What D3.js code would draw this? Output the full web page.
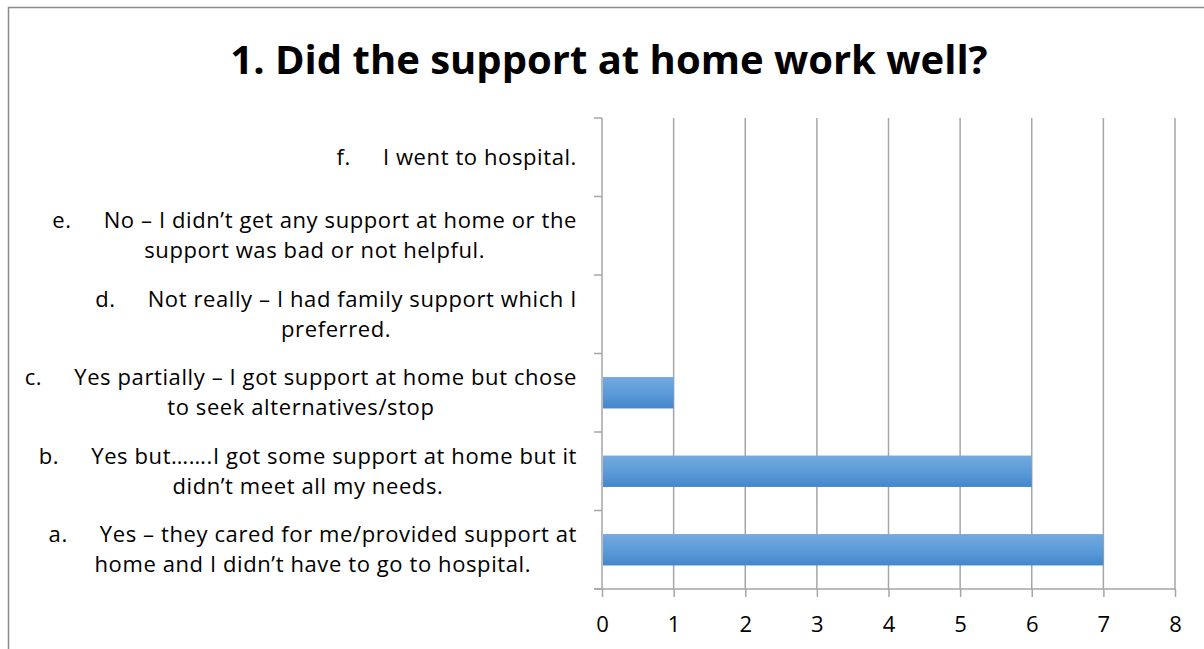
<!DOCTYPE html>
<html>
<head>
<meta charset="utf-8">
<script src="https://cdn.jsdelivr.net/npm/d3@7"></script>
<style>
  body { margin: 0; background: #fff; }
  svg { display: block; font-family: "Open Sans", Lato, sans-serif; }
</style>
</head>
<body>
<svg id="chart" width="1204" height="649"></svg>
<script>
// categories, top to bottom as drawn
const letters = ["f.", "e.", "d.", "c.", "b.", "a."];
const firstLines = [
  "I went to hospital.",
  "No – I didn’t get any support at home or the",
  "Not really – I had family support which I",
  "Yes partially – I got support at home but chose",
  "Yes but…….I got some support at home but it",
  "Yes – they cared for me/provided support at"
];
const secondLines = [
  "",
  "support was bad or not helpful.",
  "preferred.",
  "to seek alternatives/stop",
  "didn’t meet all my needs.",
  "home and I didn’t have to go to hospital."
];
const counts = [0, 0, 0, 1, 6, 7];
const xTicks = [0, 1, 2, 3, 4, 5, 6, 7, 8];

const svg = d3.select("#chart");
const W = 1204, H = 649;
const plotLeft = 602, plotRight = 1175, plotTop = 118, plotBottom = 589;

// frame (top and left edges visible)
svg.append("path")
  .attr("d", "M8.5," + H + "V7.5H" + W)
  .attr("fill", "none")
  .attr("stroke", "#8c8c8c")
  .attr("stroke-width", 1.5);

svg.append("text")
  .attr("x", 609).attr("y", 74)
  .attr("text-anchor", "middle")
  .style("font-size", "40px")
  .style("font-weight", "700")
  .style("fill", "#000")
  .text("1. Did the support at home work well?");

const x = d3.scaleLinear().domain([0, 8]).range([plotLeft, plotRight]);
const y = d3.scaleBand().domain(letters).range([plotTop, plotBottom])
  .paddingInner(0.6).paddingOuter(0.3);

// gradient for bars
const grad = svg.append("defs").append("linearGradient")
  .attr("id", "barGrad").attr("x1", 0).attr("y1", 0).attr("x2", 0).attr("y2", 1);
grad.append("stop").attr("offset", "0%").attr("stop-color", "#74a9df");
grad.append("stop").attr("offset", "50%").attr("stop-color", "#5c9cd9");
grad.append("stop").attr("offset", "100%").attr("stop-color", "#4386cb");

// vertical gridlines
svg.append("g").selectAll("line")
  .data(xTicks.slice(1))
  .join("line")
  .attr("x1", function (d) { return x(d); })
  .attr("x2", function (d) { return x(d); })
  .attr("y1", plotTop).attr("y2", plotBottom)
  .attr("stroke", "#a6a6a6")
  .attr("stroke-width", 1.5);

// bars
svg.append("g").selectAll("rect")
  .data(counts)
  .join("rect")
  .attr("x", x(0) + 1)
  .attr("y", function (d, i) { return y(letters[i]); })
  .attr("width", function (d) { return Math.max(0, x(d) - x(0) - 1); })
  .attr("height", y.bandwidth())
  .attr("fill", "url(#barGrad)");

// x axis
const xAxis = svg.append("g")
  .attr("transform", "translate(0," + plotBottom + ")")
  .call(d3.axisBottom(x).tickValues(xTicks).tickSize(8).tickPadding(19).tickFormat(d3.format("d")));
xAxis.select(".domain")
  .attr("d", "M" + (plotLeft - 8) + ",0H" + plotRight)
  .attr("stroke", "#a6a6a6").attr("stroke-width", 1.5);
xAxis.selectAll(".tick line").attr("stroke", "#a6a6a6").attr("stroke-width", 1.5);
xAxis.selectAll(".tick text")
  .style("font-family", "'Open Sans', sans-serif")
  .style("font-size", "22px")
  .style("fill", "#000");

// y axis line and category boundary ticks
const step = y.step();
const bounds = letters.map(function (c) { return y(c) - y.paddingInner() * step / 2; });
bounds.push(plotBottom);
const yAxis = svg.append("g");
yAxis.append("line")
  .attr("x1", plotLeft).attr("x2", plotLeft).attr("y1", plotTop).attr("y2", plotBottom)
  .attr("stroke", "#a6a6a6").attr("stroke-width", 1.5);
yAxis.selectAll("line.tk")
  .data(bounds)
  .join("line")
  .attr("class", "tk")
  .attr("x1", plotLeft - 8).attr("x2", plotLeft)
  .attr("y1", function (d) { return d; })
  .attr("y2", function (d) { return d; })
  .attr("stroke", "#a6a6a6").attr("stroke-width", 1.5);

// category labels
const lineH = 30;
const labels = svg.append("g")
  .style("font-size", "22px")
  .style("letter-spacing", "0.6px")
  .style("fill", "#000");
letters.forEach(function (c, i) {
  const cy = y(c) + y.bandwidth() / 2;
  const nLines = secondLines[i] ? 2 : 1;
  const y0 = cy - (nLines - 1) * lineH / 2 + 7.5;
  const t1 = labels.append("text")
    .attr("x", 577).attr("y", y0)
    .attr("text-anchor", "end");
  t1.append("tspan").text(c);
  t1.append("tspan").attr("dx", 32).text(firstLines[i]);
  if (secondLines[i]) {
    const bb = t1.node().getBBox();
    labels.append("text")
      .attr("x", bb.x + bb.width / 2).attr("y", y0 + lineH)
      .attr("text-anchor", "middle")
      .text(secondLines[i]);
  }
});
</script>
</body>
</html>
